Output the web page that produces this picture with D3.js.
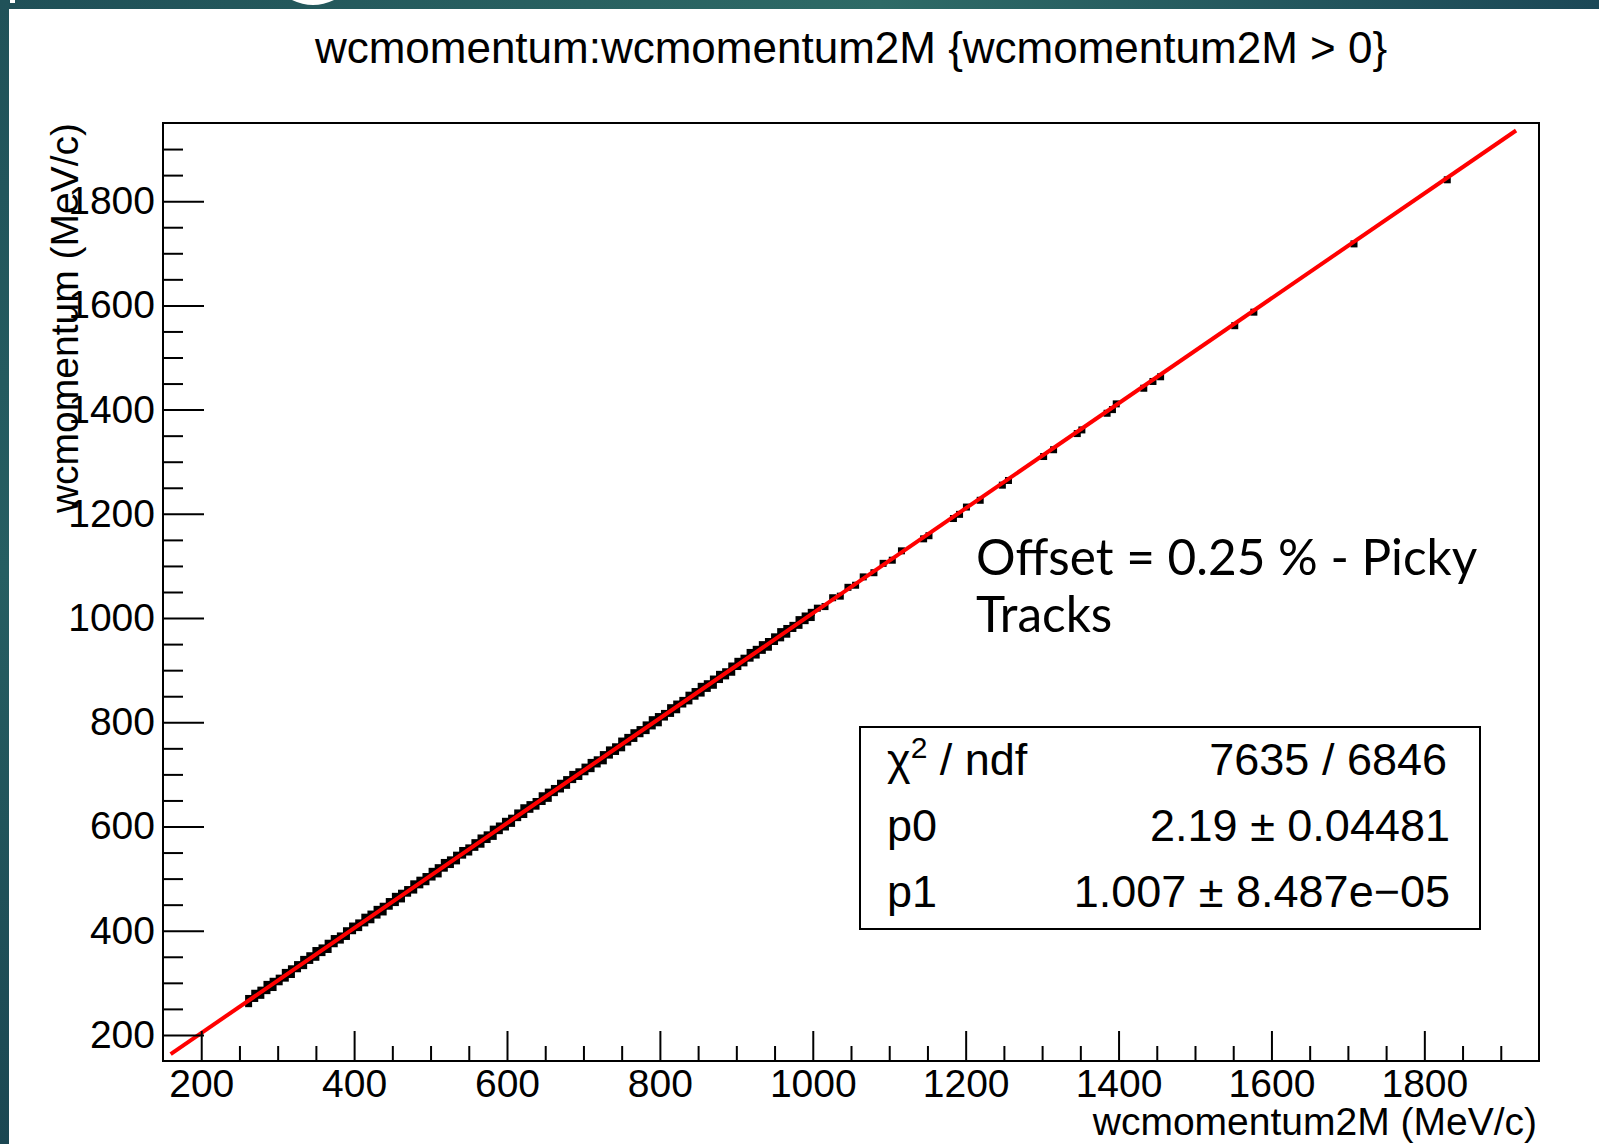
<!DOCTYPE html>
<html>
<head>
<meta charset="utf-8">
<script src="https://cdn.jsdelivr.net/npm/d3@7"></script>
<style>
  html, body { margin: 0; padding: 0; background: #fff; }
  svg { display: block; }
</style>
</head>
<body>
<svg id="chart" width="1599" height="1144"></svg>
<script>
// ---- axis ticks (MeV/c) ----
const axisDomain = [150, 1950];
const majorTicks = [200, 400, 600, 800, 1000, 1200, 1400, 1600, 1800];
const minorTicks = [250, 300, 350, 450, 500, 550, 650, 700, 750, 850, 900, 950,
  1050, 1100, 1150, 1250, 1300, 1350, 1450, 1500, 1550, 1650, 1700, 1750, 1850, 1900];

// ---- tracks: wcmomentum2M (x) vs wcmomentum (y), dense part of the sample ----
const bandX = [262, 270, 278, 286, 294, 302, 310, 318, 326, 334, 342, 350, 358, 366, 374, 382,
  390, 398, 406, 414, 422, 430, 438, 446, 454, 462, 470, 478, 486, 494, 502, 510, 518, 526,
  534, 542, 550, 558, 566, 574, 582, 590, 598, 606, 614, 622, 630, 638, 646, 654, 662, 670,
  678, 686, 694, 702, 710, 718, 726, 734, 742, 750, 758, 766, 774, 782, 790, 798, 806, 814,
  822, 830, 838, 846, 854, 862, 870, 878, 886, 894, 902, 910, 918, 926, 934, 942, 950, 958,
  966, 974, 982, 990, 998];
const bandUpper = [270, 280, 286, 297, 303, 309, 320, 327, 335, 345, 352, 362, 367, 376, 385, 390,
  400, 409, 415, 426, 432, 441, 447, 456, 466, 472, 479, 490, 497, 504, 514, 521, 531, 536,
  545, 554, 559, 569, 578, 584, 595, 601, 610, 616, 626, 636, 642, 648, 659, 666, 673, 683,
  690, 700, 705, 714, 723, 728, 738, 747, 753, 764, 771, 780, 786, 795, 805, 811, 817, 828,
  835, 842, 852, 859, 869, 874, 883, 892, 897, 908, 917, 923, 934, 940, 949, 955, 964, 974,
  980, 986, 997, 1004, 1011];
const bandLower = [260, 270, 276, 285, 291, 302, 309, 316, 327, 333, 343, 349, 358, 364, 375, 382,
  389, 400, 406, 415, 421, 430, 436, 447, 454, 461, 472, 478, 488, 494, 503, 509, 520, 527,
  534, 545, 551, 560, 566, 575, 581, 592, 599, 606, 617, 623, 633, 639, 648, 654, 665, 672,
  679, 690, 696, 705, 711, 720, 726, 737, 744, 751, 762, 769, 778, 784, 793, 799, 810, 817,
  824, 835, 841, 850, 856, 865, 871, 882, 889, 896, 907, 914, 923, 929, 938, 944, 955, 962,
  969, 980, 986, 995, 1001];

// thinner stretch above 1 GeV/c
const tailX = [1006, 1016, 1026, 1036, 1046, 1056, 1066, 1080, 1092, 1104, 1116];
const tailY = [1019, 1022, 1039, 1042, 1059, 1063, 1079, 1087, 1105, 1111, 1129];

// isolated high-momentum tracks
const sparseX = [1145, 1152, 1184, 1192, 1201, 1219, 1248, 1256, 1302, 1315, 1346, 1352,
  1385, 1392, 1397, 1433, 1445, 1455, 1552, 1577, 1708, 1830];
const sparseY = [1152, 1158, 1191, 1199, 1213, 1226, 1255, 1264, 1310, 1323, 1354, 1361,
  1393, 1400, 1411, 1441, 1454, 1463, 1561, 1587, 1718, 1841];

// ---- linear fit ----
const p0 = 2.19;
const p1 = 1.007;
const fitRange = [160, 1920];
const statNames = ["p0", "p1"];
const statValues = ["2.19 \u00B1 0.04481", "1.007 \u00B1 8.487e\u221205"];
const chi2Value = "7635 / 6846";

const titleText = "wcmomentum:wcmomentum2M {wcmomentum2M > 0}";
const xTitle = "wcmomentum2M (MeV/c)";
const yTitle = "wcmomentum (MeV/c)";
const noteLines = ["Offset = 0.25 % - Picky", "Tracks"];

// ---- drawing ----
const svg = d3.select("#chart");
const W = 1599, H = 1144;
const frame = { left: 163, top: 123, right: 1539, bottom: 1061 };
const helv = "'Liberation Sans', Arial, Helvetica, sans-serif";

svg.append("rect").attr("width", W).attr("height", H).attr("fill", "#fff");

// slide border strips
const defs = svg.append("defs");
const grad = defs.append("linearGradient").attr("id", "topStrip").attr("x1", "0").attr("x2", "1");
grad.append("stop").attr("offset", "0").attr("stop-color", "#1f4f57");
grad.append("stop").attr("offset", "0.55").attr("stop-color", "#2e6a66");
grad.append("stop").attr("offset", "1").attr("stop-color", "#1c4857");
const gradL = defs.append("linearGradient").attr("id", "leftStrip").attr("x1", "0").attr("x2", "0").attr("y1", "0").attr("y2", "1");
gradL.append("stop").attr("offset", "0").attr("stop-color", "#205259");
gradL.append("stop").attr("offset", "0.5").attr("stop-color", "#265e62");
gradL.append("stop").attr("offset", "1").attr("stop-color", "#1b4752");
svg.append("rect").attr("x", 0).attr("y", 0).attr("width", W).attr("height", 9).attr("fill", "url(#topStrip)");
svg.append("rect").attr("x", 0).attr("y", 0).attr("width", 9).attr("height", H).attr("fill", "url(#leftStrip)");
// bits of the slide heading poking into the strip
svg.append("path").attr("d", "M292,0 Q313,10 334,0 Z").attr("fill", "#fff");
svg.append("rect").attr("x", 10).attr("y", 0).attr("width", 5).attr("height", 3).attr("fill", "#fff");

const x = d3.scaleLinear().domain(axisDomain).range([frame.left, frame.right]);
const y = d3.scaleLinear().domain(axisDomain).range([frame.bottom, frame.top]);

// title
svg.append("text")
  .attr("x", 851).attr("y", 63)
  .attr("text-anchor", "middle")
  .attr("font-family", helv).attr("font-size", 44)
  .attr("fill", "#000")
  .text(titleText);

// scatter points
const pts = [];
bandX.forEach((v, i) => { pts.push([v, bandUpper[i]]); pts.push([v, bandLower[i]]); });
tailX.forEach((v, i) => pts.push([v, tailY[i]]));
sparseX.forEach((v, i) => pts.push([v, sparseY[i]]));

const plot = svg.append("g");
const ms = 7;
plot.selectAll("rect.pt").data(pts).enter().append("rect")
  .attr("class", "pt")
  .attr("x", d => x(d[0]) - ms / 2)
  .attr("y", d => y(d[1]) - ms / 2)
  .attr("width", ms).attr("height", ms)
  .attr("fill", "#000");

// fit line
const fitLine = d3.line().x(d => x(d)).y(d => y(p0 + p1 * d));
plot.append("path")
  .datum(fitRange)
  .attr("d", fitLine)
  .attr("fill", "none")
  .attr("stroke", "#ff0000")
  .attr("stroke-width", 4);

// axes: ticks point into the frame
function styleAxis(g) {
  g.select(".domain").remove();
  g.selectAll("line").attr("stroke", "#000").attr("stroke-width", 2);
  g.selectAll("text").attr("font-family", helv).attr("font-size", 39).attr("fill", "#000");
}
svg.append("g").attr("transform", `translate(0,${frame.bottom})`)
  .call(d3.axisBottom(x).tickValues(majorTicks).tickSizeInner(-30).tickSizeOuter(0).tickPadding(8).tickFormat(d3.format("d")))
  .call(styleAxis);
svg.append("g").attr("transform", `translate(0,${frame.bottom})`)
  .call(d3.axisBottom(x).tickValues(minorTicks).tickSizeInner(-15).tickSizeOuter(0).tickFormat(""))
  .call(styleAxis);
svg.append("g").attr("transform", `translate(${frame.left},0)`)
  .call(d3.axisLeft(y).tickValues(majorTicks).tickSizeInner(-41).tickSizeOuter(0).tickPadding(8).tickFormat(d3.format("d")))
  .call(styleAxis);
svg.append("g").attr("transform", `translate(${frame.left},0)`)
  .call(d3.axisLeft(y).tickValues(minorTicks).tickSizeInner(-20).tickSizeOuter(0).tickFormat(""))
  .call(styleAxis);

// frame
svg.append("rect")
  .attr("x", frame.left).attr("y", frame.top)
  .attr("width", frame.right - frame.left).attr("height", frame.bottom - frame.top)
  .attr("fill", "none").attr("stroke", "#000").attr("stroke-width", 2);

// axis titles
svg.append("text")
  .attr("x", 1537).attr("y", 1135)
  .attr("text-anchor", "end")
  .attr("font-family", helv).attr("font-size", 39).attr("fill", "#000")
  .text(xTitle);
svg.append("text")
  .attr("transform", `translate(78,${frame.top}) rotate(-90)`)
  .attr("text-anchor", "end")
  .attr("font-family", helv).attr("font-size", 39).attr("fill", "#000")
  .text(yTitle);

// annotation
const note = svg.append("text")
  .attr("font-family", "Lato, 'Open Sans', sans-serif").attr("font-size", 49.5)
  .attr("fill", "#000");
noteLines.forEach((t, i) => {
  note.append("tspan").attr("x", 976).attr("y", 575 + i * 57).text(t);
});

// fit statistics box
const box = { x: 860, y: 727, w: 620, h: 202 };
svg.append("rect")
  .attr("x", box.x).attr("y", box.y).attr("width", box.w).attr("height", box.h)
  .attr("fill", "#fff").attr("stroke", "#000").attr("stroke-width", 2);
const rowY = [775, 841, 907];
const chi = svg.append("text")
  .attr("x", 887).attr("y", rowY[0])
  .attr("font-family", helv).attr("font-size", 45).attr("fill", "#000");
chi.append("tspan").text("\u03C7");
chi.append("tspan").attr("font-size", 30).attr("dy", -17).text("2");
chi.append("tspan").attr("dy", 17).text(" / ndf");
svg.append("text")
  .attr("x", 1447).attr("y", rowY[0]).attr("text-anchor", "end")
  .attr("font-family", helv).attr("font-size", 45).attr("fill", "#000")
  .text(chi2Value);
statNames.forEach((n, i) => {
  svg.append("text")
    .attr("x", 887).attr("y", rowY[i + 1])
    .attr("font-family", helv).attr("font-size", 45).attr("fill", "#000")
    .text(n);
  svg.append("text")
    .attr("x", 1450).attr("y", rowY[i + 1]).attr("text-anchor", "end")
    .attr("font-family", helv).attr("font-size", 45).attr("fill", "#000")
    .text(statValues[i]);
});
</script>
</body>
</html>
